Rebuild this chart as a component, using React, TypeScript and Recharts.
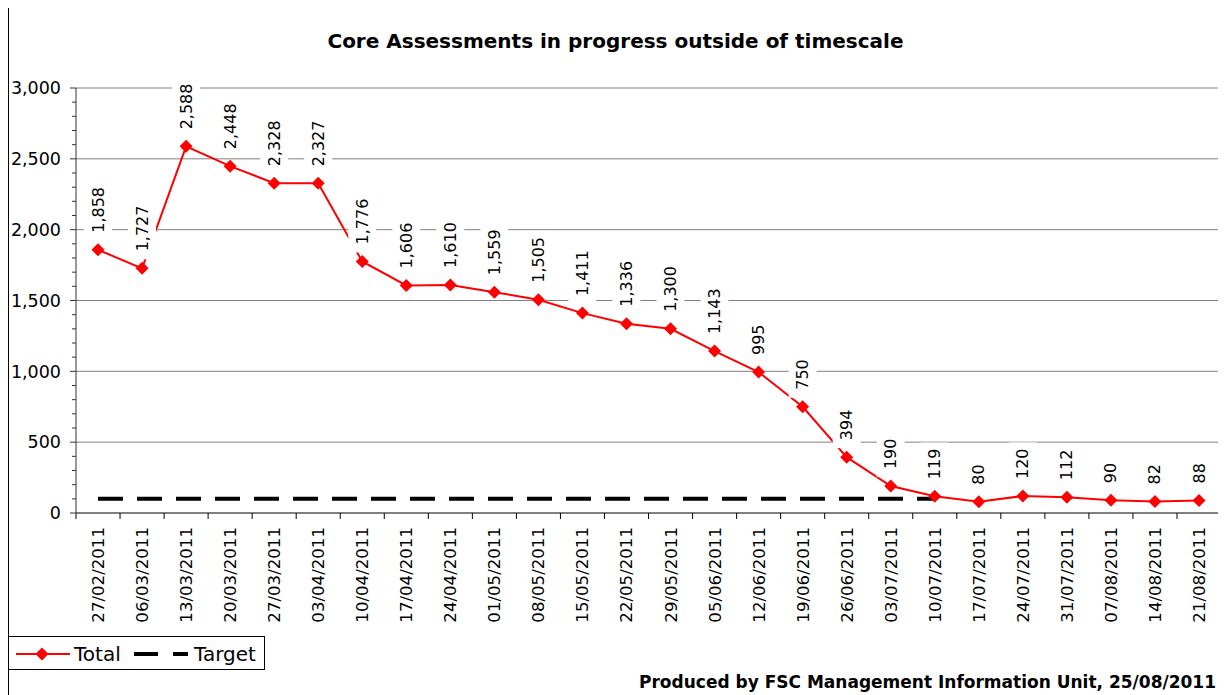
import { LineChart, Line, XAxis, YAxis, CartesianGrid, LabelList } from 'recharts';

const dates = [
  '27/02/2011', '06/03/2011', '13/03/2011', '20/03/2011', '27/03/2011', '03/04/2011',
  '10/04/2011', '17/04/2011', '24/04/2011', '01/05/2011', '08/05/2011', '15/05/2011',
  '22/05/2011', '29/05/2011', '05/06/2011', '12/06/2011', '19/06/2011', '26/06/2011',
  '03/07/2011', '10/07/2011', '17/07/2011', '24/07/2011', '31/07/2011', '07/08/2011',
  '14/08/2011', '21/08/2011',
];

const totalValues = [
  1858, 1727, 2588, 2448, 2328, 2327, 1776, 1606, 1610, 1559, 1505, 1411, 1336,
  1300, 1143, 995, 750, 394, 190, 119, 80, 120, 112, 90, 82, 88,
];

const targetValues = [
  100, 100, 100, 100, 100, 100, 100, 100, 100, 100, 100, 100, 100,
  100, 100, 100, 100, 100, 100, 100, null, null, null, null, null, null,
];

const yTicks = [
  0, 100, 200, 300, 400, 500, 600, 700, 800, 900, 1000, 1100, 1200, 1300, 1400, 1500,
  1600, 1700, 1800, 1900, 2000, 2100, 2200, 2300, 2400, 2500, 2600, 2700, 2800, 2900, 3000,
];
const gridValues = [500, 1000, 1500, 2000, 2500, 3000];

const data = dates.map((date, i) => ({
  date,
  total: totalValues[i],
  target: targetValues[i],
}));

const FONT = '"DejaVu Sans", Verdana, sans-serif';
const HALF_STEP = 22;

const fmt = (v: number) => v.toLocaleString('en-US');

// rough width of digits/commas at 16px, used for the white label boxes
const textLen = (s: string) =>
  s.split('').reduce((acc, ch) => acc + (ch === ',' ? 5.1 : 10.2), 0);

function XTick(props: any) {
  const { x, y, payload } = props;
  return (
    <g>
      <line x1={x - HALF_STEP} x2={x - HALF_STEP} y1={y} y2={y + 6} stroke="#000" />
      <text
        transform={`translate(${x + 6},${y + 14}) rotate(-90)`}
        textAnchor="end"
        fontSize={16.6}
        fontFamily={FONT}
        fill="#000"
      >
        {payload.value}
      </text>
    </g>
  );
}

function YTick(props: any) {
  const { x, y, payload } = props;
  const major = payload.value % 500 === 0;
  return (
    <g>
      <line x1={x - (major ? 6 : 4)} x2={x} y1={y} y2={y} stroke="#333" />
      {major && (
        <text x={x - 15} y={y} dy="0.36em" textAnchor="end" fontSize={17.5} fontFamily={FONT} fill="#000">
          {fmt(payload.value)}
        </text>
      )}
    </g>
  );
}

function Diamond(props: any) {
  const { cx, cy, index } = props;
  if (cx == null || cy == null) return <g key={index} />;
  const r = 6.5;
  return (
    <polygon
      key={index}
      points={`${cx},${cy - r} ${cx + r},${cy} ${cx},${cy + r} ${cx - r},${cy}`}
      fill="#FF0000"
    />
  );
}

function ValueLabel(props: any) {
  const { x, y, value } = props;
  if (value == null) return null;
  const text = fmt(Number(value));
  const len = textLen(text);
  const base = y - 17;
  return (
    <g>
      <rect x={x - 14} y={base - len - 6} width={28} height={len + 14} fill="#fff" />
      <text
        transform={`translate(${x + 5.5},${base}) rotate(-90)`}
        fontSize={16}
        fontFamily={FONT}
        fill="#000"
      >
        {text}
      </text>
    </g>
  );
}

export default function App() {
  return (
    <div
      style={{
        position: 'relative',
        width: 1213,
        height: 700,
        border: '1px solid #000',
        borderRight: '2px solid #333',
        borderBottom: 'none',
        marginTop: -1,
        background: '#fff',
        fontFamily: FONT,
      }}
    >
      <div
        style={{
          position: 'absolute',
          top: 22,
          left: 0,
          width: '100%',
          textAlign: 'center',
          fontSize: 20,
          fontWeight: 'bold',
          lineHeight: '22px',
        }}
      >
        Core Assessments in progress outside of timescale
      </div>

      <LineChart width={1213} height={700} data={data} margin={{ top: 80, right: 1, left: 0, bottom: 0 }}>
        <CartesianGrid horizontal vertical={false} horizontalValues={gridValues} stroke="#808080" />
        <XAxis
          dataKey="date"
          scale="point"
          padding={{ left: 22, right: 22 }}
          interval={0}
          height={195}
          tickSize={0}
          tickMargin={0}
          tickLine={false}
          axisLine={{ stroke: '#000' }}
          tick={<XTick />}
        />
        <YAxis
          domain={[0, 3000]}
          ticks={yTicks}
          interval={0}
          width={67}
          tickSize={0}
          tickMargin={0}
          tickLine={false}
          axisLine={{ stroke: '#333' }}
          tick={<YTick />}
        />
        <Line
          dataKey="target"
          stroke="#000"
          strokeWidth={4}
          strokeDasharray="25 14"
          dot={false}
          activeDot={false}
          isAnimationActive={false}
          connectNulls={false}
        />
        <Line
          dataKey="total"
          stroke="#FF0000"
          strokeWidth={2}
          dot={Diamond}
          activeDot={false}
          isAnimationActive={false}
        >
          <LabelList dataKey="total" content={ValueLabel} />
        </Line>
      </LineChart>

      <div
        style={{
          position: 'absolute',
          left: -1,
          top: 628,
          width: 255,
          height: 32,
          border: '1px solid #000',
          background: '#fff',
        }}
      >
        <svg width={255} height={32} style={{ display: 'block' }}>
          <line x1={7} x2={61} y1={17} y2={17} stroke="#FF0000" strokeWidth={2} />
          <polygon points="33,10.5 39.5,17 33,23.5 26.5,17" fill="#FF0000" />
          <text x={65} y={24} fontSize={20} fontFamily={FONT} fill="#000">Total</text>
          <line x1={125} x2={179} y1={17} y2={17} stroke="#000" strokeWidth={4} strokeDasharray="24 15" />
          <text x={185} y={24} fontSize={20} fontFamily={FONT} fill="#000">Target</text>
        </svg>
      </div>

      <div
        style={{
          position: 'absolute',
          right: 6,
          top: 664,
          fontSize: 17,
          fontWeight: 'bold',
          lineHeight: '20px',
          whiteSpace: 'nowrap',
        }}
      >
        Produced by FSC Management Information Unit, 25/08/2011
      </div>
    </div>
  );
}
